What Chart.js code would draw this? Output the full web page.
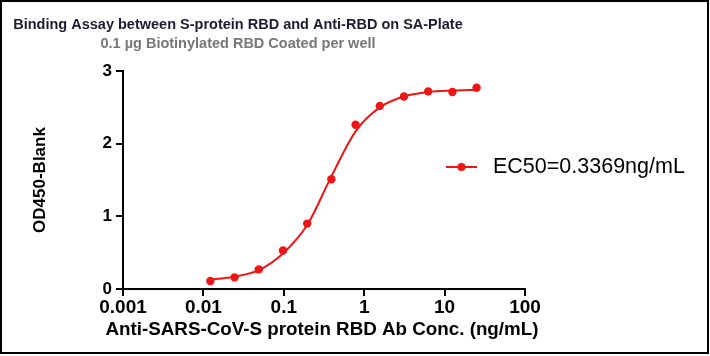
<!DOCTYPE html>
<html>
<head>
<meta charset="utf-8">
<script src="https://cdn.jsdelivr.net/npm/chart.js@4/dist/chart.umd.min.js"></script>
<style>
html,body{margin:0;padding:0;background:#fff;}
#wrap{position:relative;width:710px;height:356px;}
</style>
</head>
<body>
<div id="wrap"><canvas id="c"></canvas></div>
<script>
// ---- data ----
const titleText = 'Binding Assay between S-protein RBD and Anti-RBD on SA-Plate';
const subtitleText = '0.1 \u00b5g Biotinylated RBD Coated per well';
const xAxisTitle = 'Anti-SARS-CoV-S protein RBD Ab Conc. (ng/mL)';
const yAxisTitle = 'OD450-Blank';
const legendLabel = 'EC50=0.3369ng/mL';
const concentrations = [0.01221, 0.02441, 0.04883, 0.09766, 0.1953, 0.3906, 0.7813, 1.5625, 3.125, 6.25, 12.5, 25];
const odValues = [0.11, 0.16, 0.27, 0.53, 0.90, 1.51, 2.26, 2.52, 2.65, 2.72, 2.71, 2.77];
const fitValues = [0.13, 0.17, 0.26, 0.49, 0.88, 1.55, 2.17, 2.50, 2.65, 2.71, 2.73, 2.74];
const xTickValues = [0.001, 0.01, 0.1, 1, 10, 100];
const xTickLabels = ['0.001', '0.01', '0.1', '1', '10', '100'];
const yTickValues = [0, 1, 2, 3];

const RED = '#ee1515';
const FONT = '"Liberation Sans", Arial, Helvetica, sans-serif';

const decorPlugin = {
  id: 'decor',
  afterDraw(chart) {
    const ctx = chart.ctx;
    const area = chart.chartArea;
    ctx.save();
    // frame
    ctx.strokeStyle = '#000';
    ctx.lineWidth = 2;
    ctx.strokeRect(1, 1, 707, 352);
    // titles
    ctx.textAlign = 'center';
    ctx.textBaseline = 'middle';
    ctx.fillStyle = '#1c1c30';
    ctx.font = 'bold 14.5px ' + FONT;
    ctx.fillText(titleText, 238, 25);
    ctx.fillStyle = '#777777';
    ctx.font = 'bold 14.5px ' + FONT;
    ctx.fillText(subtitleText, 238, 44);
    // x axis title (drawn here so it is not squeezed to the axis width)
    ctx.fillStyle = '#000';
    ctx.font = 'bold 18.8px ' + FONT;
    ctx.fillText(xAxisTitle, (area.left + area.right) / 2 - 2, 330);
    // legend
    const ly = 167;
    ctx.strokeStyle = RED;
    ctx.lineWidth = 2;
    ctx.beginPath();
    ctx.moveTo(446, ly);
    ctx.lineTo(477, ly);
    ctx.stroke();
    ctx.fillStyle = RED;
    ctx.beginPath();
    ctx.arc(461.5, ly, 4, 0, Math.PI * 2);
    ctx.fill();
    ctx.fillStyle = '#000';
    ctx.textAlign = 'left';
    ctx.font = '21.5px ' + FONT;
    ctx.fillText(legendLabel, 493, ly);
    ctx.restore();
  }
};

const ctx = document.getElementById('c');
new Chart(ctx, {
  type: 'line',
  data: {
    datasets: [
      {
        label: 'fit',
        data: concentrations.map((c, i) => ({x: c, y: fitValues[i]})),
        borderColor: RED,
        borderWidth: 2,
        pointRadius: 0,
        cubicInterpolationMode: 'monotone',
        fill: false
      },
      {
        label: legendLabel,
        data: concentrations.map((c, i) => ({x: c, y: odValues[i]})),
        borderColor: RED,
        backgroundColor: RED,
        showLine: false,
        pointRadius: 4.2,
        pointBorderWidth: 0
      }
    ]
  },
  options: {
    responsive: true,
    maintainAspectRatio: false,
    animation: false,
    devicePixelRatio: 1,
    layout: {padding: {left: 0, right: 185, top: 71, bottom: 0}},
    plugins: {legend: {display: false}, title: {display: false}, tooltip: {enabled: false}},
    scales: {
      x: {
        type: 'logarithmic',
        min: 0.001,
        max: 100,
        afterBuildTicks(scale) {
          scale.ticks = xTickValues.map(v => ({value: v}));
        },
        afterFit(scale) { scale.height = 67; },
        ticks: {
          color: '#000',
          font: {family: FONT, size: 19, weight: 'bold'},
          padding: 0,
          maxRotation: 0,
          autoSkip: false,
          callback(value) {
            const i = xTickValues.findIndex(v => Math.abs(v - value) / v < 1e-6);
            return i >= 0 ? xTickLabels[i] : '';
          }
        },
        grid: {drawOnChartArea: false, drawTicks: true, tickLength: 7, color: '#000', lineWidth: 2},
        border: {color: '#000', width: 2},
        title: {display: false}
      },
      y: {
        type: 'linear',
        min: 0,
        max: 3,
        afterBuildTicks(scale) {
          scale.ticks = yTickValues.map(v => ({value: v}));
        },
        afterFit(scale) { scale.width = 123; },
        ticks: {
          color: '#000',
          font: {family: FONT, size: 17, weight: 'bold'},
          padding: 4
        },
        grid: {drawOnChartArea: false, drawTicks: true, tickLength: 7, color: '#000', lineWidth: 2},
        border: {color: '#000', width: 2},
        title: {
          display: true,
          text: yAxisTitle,
          color: '#000',
          font: {family: FONT, size: 17, weight: 'bold'},
          padding: {top: 30, bottom: 0}
        }
      }
    }
  },
  plugins: [decorPlugin]
});
</script>
</body>
</html>
